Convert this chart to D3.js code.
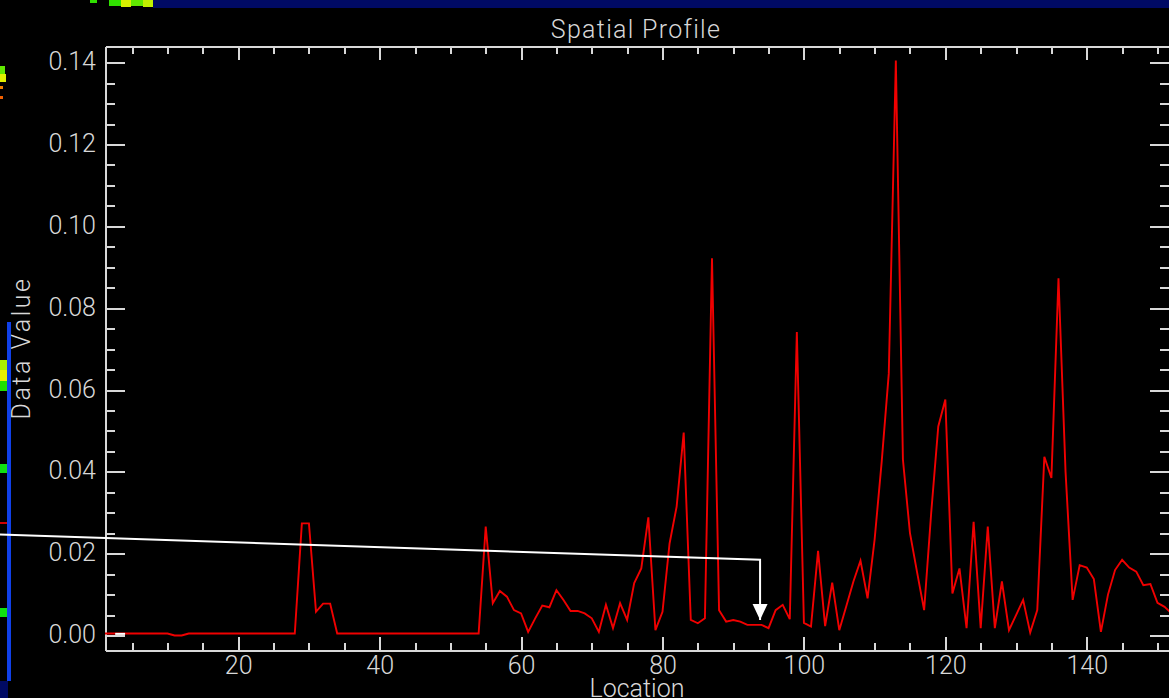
<!DOCTYPE html>
<html>
<head>
<meta charset="utf-8">
<script src="https://cdn.jsdelivr.net/npm/d3@7"></script>
<style>
html, body { margin: 0; padding: 0; background: #000; overflow: hidden; }
svg { display: block; }
.lbl { font-family: Roboto, "Liberation Sans", sans-serif; font-weight: 300; font-size: 25px; fill: #d8d8d8; }
.axis path, .axis line { stroke: #d8d8d8; stroke-width: 2; shape-rendering: crispEdges; }
.axis text { font-family: Roboto, "Liberation Sans", sans-serif; font-weight: 300; font-size: 25px; fill: #d8d8d8; }
</style>
</head>
<body>
<div id="chart"></div>
<script>
// profile data, one value per pixel location
var locations = d3.range(1, 153);
var values = [
  0.0005, 0.0005, 0.0005, 0.0005, 0.0005, 0.0005, 0.0005, 0.0005, 0.0005, 0.0005,
  0.0000, 0.0000, 0.0005, 0.0005, 0.0005, 0.0005, 0.0005, 0.0005, 0.0005, 0.0005,
  0.0005, 0.0005, 0.0005, 0.0005, 0.0005, 0.0005, 0.0005, 0.0005, 0.0274, 0.0274,
  0.0058, 0.0078, 0.0078, 0.0005, 0.0005, 0.0005, 0.0005, 0.0005, 0.0005, 0.0005,
  0.0005, 0.0005, 0.0005, 0.0005, 0.0005, 0.0005, 0.0005, 0.0005, 0.0005, 0.0005,
  0.0005, 0.0005, 0.0005, 0.0005, 0.0266, 0.0079, 0.0109, 0.0095, 0.0062, 0.0054,
  0.0009, 0.0042, 0.0073, 0.0069, 0.0111, 0.0087, 0.0060, 0.0060, 0.0054, 0.0042,
  0.0009, 0.0075, 0.0018, 0.0079, 0.0038, 0.0128, 0.0164, 0.0289, 0.0013, 0.0058,
  0.0225, 0.0315, 0.0496, 0.0038, 0.0030, 0.0042, 0.0922, 0.0062, 0.0034, 0.0038,
  0.0034, 0.0026, 0.0026, 0.0026, 0.0018, 0.0062, 0.0075, 0.0040, 0.0742, 0.0031,
  0.0022, 0.0207, 0.0023, 0.0129, 0.0013, 0.0072, 0.0132, 0.0183, 0.0091, 0.0235,
  0.0425, 0.0640, 0.1405, 0.0430, 0.0250, 0.0155, 0.0062, 0.0300, 0.0511, 0.0577,
  0.0103, 0.0164, 0.0018, 0.0278, 0.0018, 0.0266, 0.0018, 0.0132, 0.0013, 0.0050,
  0.0087, 0.0007, 0.0062, 0.0437, 0.0385, 0.0873, 0.0400, 0.0087, 0.0172, 0.0166,
  0.0138, 0.0009, 0.0100, 0.0160, 0.0185, 0.0166, 0.0156, 0.0123, 0.0126, 0.0080,
  0.0070, 0.0054
];
var xMajorTicks = [20, 40, 60, 80, 100, 120, 140];
var xMinorTicks = [5, 10, 15, 25, 30, 35, 45, 50, 55, 65, 70, 75, 85, 90, 95, 105, 110, 115, 125, 130, 135, 145, 150];
var yMajorTicks = [0, 0.02, 0.04, 0.06, 0.08, 0.10, 0.12, 0.14];
var yMinorTicks = [0.005, 0.01, 0.015, 0.025, 0.03, 0.035, 0.045, 0.05, 0.055, 0.065, 0.07, 0.075,
  0.085, 0.09, 0.095, 0.105, 0.11, 0.115, 0.125, 0.13, 0.135];
var titleText = "Spatial Profile";
var xTitle = "Location";
var yTitle = "Data Value";
// white pointer drawn over the plot (location, value)
var pointerLocs = [-13.7, 93.8, 93.8];
var pointerVals = [0.0247, 0.0185, 0.0038];

var width = 1169, height = 698;

var svg = d3.select('#chart')
  .append('svg')
  .attr('width', width)
  .attr('height', height)
  .style('background', '#000');

var x = d3.scaleLinear().domain([1.16, 151.7]).range([105, 1169.5]);
var y = d3.scaleLinear().domain([-0.00354, 0.1439]).range([650, 46.7]);

// bits of neighbouring windows in the screenshot
var decor = [
  [153, 0, 1016, 8, '#000a64'],
  [109, 0, 12, 6, '#30e000'], [121, 0, 10, 7, '#d8f000'], [131, 0, 12, 6, '#60e800'], [143, 0, 10, 7, '#c0f000'],
  [90, 0, 7, 3, '#30e000'],
  [0, 66, 5, 8, '#60e800'], [0, 74, 6, 8, '#e0f000'], [0, 86, 3, 3, '#f08000'], [0, 96, 3, 3, '#f06000'],
  [0, 360, 7, 10, '#a8f000'], [0, 370, 7, 11, '#e8f000'], [0, 381, 7, 10, '#20e000'],
  [0, 464, 7, 9, '#10e010'], [0, 608, 7, 9, '#10e010'], [0, 522, 7, 2, '#d00000'],
  [7, 322, 4, 359, '#1040e8'], [0, 681, 8, 17, '#000a64']
];
svg.selectAll('rect.decor')
  .data(decor)
  .enter()
  .append('rect')
  .attr('class', 'decor')
  .attr('x', function (d) { return d[0]; })
  .attr('y', function (d) { return d[1]; })
  .attr('width', function (d) { return d[2]; })
  .attr('height', function (d) { return d[3]; })
  .attr('fill', function (d) { return d[4]; });

// axes: labelled bottom/left, plain top/right, with minor ticks
function addAxis(axis, tx, ty, cls) {
  return svg.append('g')
    .attr('class', 'axis ' + (cls || ''))
    .attr('transform', 'translate(' + tx + ',' + ty + ')')
    .call(axis);
}

addAxis(d3.axisBottom(x).tickValues(xMajorTicks).tickFormat(d3.format('d'))
  .tickSizeInner(-13).tickSizeOuter(0).tickPadding(6), 0, 650);
addAxis(d3.axisBottom(x).tickValues(xMinorTicks).tickFormat('')
  .tickSizeInner(-7).tickSizeOuter(0), 0, 650);
addAxis(d3.axisTop(x).tickValues(xMajorTicks).tickFormat('')
  .tickSizeInner(-13).tickSizeOuter(0), 0, 46.7);
addAxis(d3.axisTop(x).tickValues(xMinorTicks).tickFormat('')
  .tickSizeInner(-7).tickSizeOuter(0), 0, 46.7);

addAxis(d3.axisLeft(y).tickValues(yMajorTicks).tickFormat(d3.format('.2f'))
  .tickSizeInner(-20).tickSizeOuter(0).tickPadding(9), 105, 0)
  .selectAll('text').attr('dy', '0.28em');
addAxis(d3.axisLeft(y).tickValues(yMinorTicks).tickFormat('')
  .tickSizeInner(-10).tickSizeOuter(0), 105, 0);
addAxis(d3.axisRight(y).tickValues(yMajorTicks).tickFormat('')
  .tickSizeInner(-20).tickSizeOuter(0), 1169.5, 0);
addAxis(d3.axisRight(y).tickValues(yMinorTicks).tickFormat('')
  .tickSizeInner(-10).tickSizeOuter(0), 1169.5, 0);

// profile line
svg.append('clipPath').attr('id', 'plotClip')
  .append('rect').attr('x', 105).attr('y', 46.7).attr('width', 1064.5).attr('height', 603.3);

var line = d3.line()
  .x(function (d, i) { return x(locations[i]); })
  .y(function (d) { return y(d); });

svg.append('path')
  .datum(values)
  .attr('clip-path', 'url(#plotClip)')
  .attr('d', line)
  .attr('fill', 'none')
  .attr('stroke', '#f00000')
  .attr('stroke-width', 1.9)
  .attr('stroke-linejoin', 'miter');

// white pointer with arrow head
var pointer = d3.line()
  .x(function (d, i) { return x(pointerLocs[i]); })
  .y(function (d, i) { return y(pointerVals[i]); });
var tipX = x(pointerLocs[2]), tipY = y(pointerVals[2]);
svg.append('path')
  .datum(pointerLocs)
  .attr('d', pointer)
  .attr('fill', 'none')
  .attr('stroke', '#ffffff')
  .attr('stroke-width', 2);
svg.append('path')
  .attr('d', 'M' + (tipX - 7.5) + ',' + (tipY - 16) + 'L' + (tipX + 7.5) + ',' + (tipY - 16) + 'L' + tipX + ',' + tipY + 'Z')
  .attr('fill', '#ffffff');
svg.append('line')
  .attr('x1', x(2.6)).attr('x2', x(4))
  .attr('y1', y(0.0004)).attr('y2', y(0.0004))
  .attr('stroke', '#ffffff').attr('stroke-width', 2);

// titles
svg.append('text').attr('class', 'lbl')
  .attr('x', 636).attr('y', 38)
  .attr('text-anchor', 'middle')
  .attr('letter-spacing', 1.3)
  .text(titleText);
svg.append('text').attr('class', 'lbl')
  .attr('x', 637).attr('y', 697)
  .attr('text-anchor', 'middle')
  .text(xTitle);
svg.append('text').attr('class', 'lbl')
  .attr('transform', 'translate(29.5,348) rotate(-90)')
  .attr('text-anchor', 'middle')
  .attr('letter-spacing', 2.5)
  .text(yTitle);
</script>
</body>
</html>
